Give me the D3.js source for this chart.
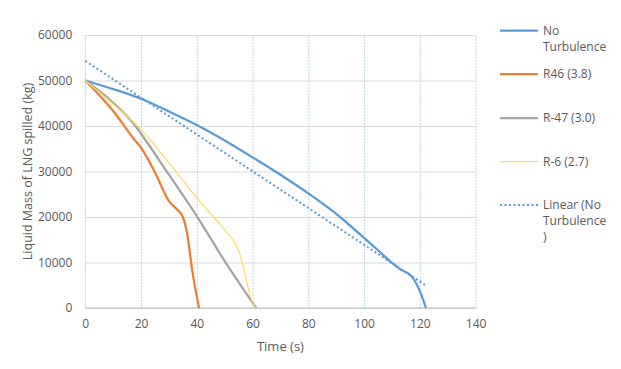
<!DOCTYPE html>
<html>
<head>
    <meta charset="utf-8">
    <title>Liquid Mass of LNG spilled</title>
    <script type="text/javascript" src="https://cdn.jsdelivr.net/npm/d3@7"></script>
    <style>
        body { margin: 0; background: #fff; }
        text { font-family: "Open Sans", sans-serif; fill: #595959; }
    </style>
</head>
<body>
<script type="text/javascript">
    // series values
    var noTurbX  = [0, 10, 20, 30, 40, 50, 60, 70, 80, 90, 100, 105, 110, 113, 117, 120, 122.2];
    var noTurbY  = [50000, 48100, 46000, 43200, 40200, 36800, 33100, 29300, 25200, 20700, 15400, 12700, 9900, 8500, 7000, 3700, 0];

    var r46X     = [0, 10, 18, 20, 25, 30, 33, 35, 36.5, 38.3, 40.8];
    var r46Y     = [50000, 43300, 36700, 35200, 29800, 23500, 21600, 20000, 16500, 8500, 0];

    var r47X     = [0, 10, 18, 20, 30, 40, 50, 61.3];
    var r47Y     = [50000, 45100, 40000, 38300, 29300, 20200, 10300, 0];

    var r6X      = [0, 10, 20, 30, 40, 45, 50, 53, 55, 56.5, 58, 59.5, 61];
    var r6Y      = [50000, 44800, 39200, 31900, 24200, 20700, 17200, 14900, 12600, 9500, 5500, 2000, 0];

    // linear trendline of "No Turbulence", end points
    var linearX  = [0, 122];
    var linearY  = [54300, 5000];

    var xTicks = [0, 20, 40, 60, 80, 100, 120, 140];
    var yTicks = [0, 10000, 20000, 30000, 40000, 50000, 60000];

    var legendNames = [["No", "Turbulence"], ["R46 (3.8)"], ["R-47 (3.0)"], ["R-6 (2.7)"], ["Linear (No", "Turbulence", ")"]];

    var width = 621, height = 369;
    var plotL = 85.3, plotR = 475.6, plotT = 35, plotB = 308;

    var svg = d3.select("body").append("svg")
            .attr("width", width)
            .attr("height", height);

    var x = d3.scaleLinear().domain([0, 140]).range([plotL, plotR]);
    var y = d3.scaleLinear().domain([0, 60000]).range([plotB, plotT]);

    // horizontal grid
    svg.append("g")
        .attr("transform", "translate(" + plotL + ",0)")
        .call(d3.axisLeft(y).tickValues(yTicks).tickSize(-(plotR - plotL)).tickFormat(""))
        .call(function(g){
            g.select(".domain").remove();
            g.selectAll(".tick line").attr("stroke", "#d9d9d9").attr("stroke-width", 1);
        });

    // vertical dotted grid
    svg.append("g")
        .attr("transform", "translate(0," + plotB + ")")
        .call(d3.axisBottom(x).tickValues(xTicks.slice(1)).tickSize(-(plotB - plotT)).tickFormat(""))
        .call(function(g){
            g.select(".domain").remove();
            g.selectAll(".tick line").attr("stroke", "#bdd7ee").attr("stroke-dasharray", "2,1");
        });

    // axis lines
    svg.append("line").attr("x1", plotL).attr("x2", plotL).attr("y1", plotT).attr("y2", plotB)
        .attr("stroke", "#d9d9d9");
    svg.append("line").attr("x1", plotL).attr("x2", plotR).attr("y1", plotB).attr("y2", plotB)
        .attr("stroke", "#bfbfbf");

    // tick labels
    svg.append("g")
        .attr("transform", "translate(" + plotL + ",0)")
        .call(d3.axisLeft(y).tickValues(yTicks).tickSize(0).tickPadding(13).tickFormat(d3.format("d")))
        .call(function(g){
            g.select(".domain").remove();
            g.selectAll("text").style("font-size", "12px").style("font-family", "Open Sans").attr("fill", "#595959");
        });

    svg.append("g")
        .attr("transform", "translate(0," + plotB + ")")
        .call(d3.axisBottom(x).tickValues(xTicks).tickSize(0).tickPadding(11))
        .call(function(g){
            g.select(".domain").remove();
            g.selectAll("text").style("font-size", "12px").style("font-family", "Open Sans").attr("fill", "#595959");
        });

    // axis titles
    svg.append("text")
        .attr("x", (plotL + plotR) / 2).attr("y", 351)
        .attr("text-anchor", "middle")
        .style("font-size", "13px")
        .text("Time (s)");

    svg.append("text")
        .attr("transform", "translate(32," + ((plotT + plotB) / 2) + ") rotate(-90)")
        .attr("text-anchor", "middle")
        .style("font-size", "12.5px")
        .text("Liquid Mass of LNG spilled (kg)");

    // series
    var smooth = d3.line()
        .x(function(d){ return x(d[0]); })
        .y(function(d){ return y(d[1]); })
        .curve(d3.curveMonotoneX);
    var straight = d3.line()
        .x(function(d){ return x(d[0]); })
        .y(function(d){ return y(d[1]); });

    function pairs(xs, ys){ return xs.map(function(v, i){ return [v, ys[i]]; }); }

    var series = [
        { xs: noTurbX, ys: noTurbY, color: "#5b9bd5", w: 2.25, dash: null },
        { xs: r46X,    ys: r46Y,    color: "#ed7d31", w: 2.25, dash: null },
        { xs: r47X,    ys: r47Y,    color: "#a5a5a5", w: 2.25, dash: null },
        { xs: r6X,     ys: r6Y,     color: "#ffd966", w: 1.25, dash: null },
        { xs: linearX, ys: linearY, color: "#5b9bd5", w: 2,    dash: "2,2.5" }
    ];

    series.forEach(function(s){
        svg.append("path")
            .datum(pairs(s.xs, s.ys))
            .attr("fill", "none")
            .attr("stroke", s.color)
            .attr("stroke-width", s.w)
            .attr("stroke-dasharray", s.dash)
            .attr("d", s.xs.length > 2 ? smooth : straight);
    });

    // legend
    var legendY = [30.7, 74, 118, 161.7, 205];
    var legend = svg.append("g");
    series.forEach(function(s, i){
        legend.append("line")
            .attr("x1", 500).attr("x2", 538)
            .attr("y1", legendY[i]).attr("y2", legendY[i])
            .attr("stroke", s.color)
            .attr("stroke-width", s.w)
            .attr("stroke-dasharray", s.dash);
        var t = legend.append("text")
            .attr("x", 543).attr("y", legendY[i] + 4.3)
            .style("font-size", "12px");
        legendNames[i].forEach(function(n, j){
            t.append("tspan").attr("x", 543).attr("dy", j === 0 ? 0 : 16).text(n);
        });
    });
</script>
</body>
</html>
